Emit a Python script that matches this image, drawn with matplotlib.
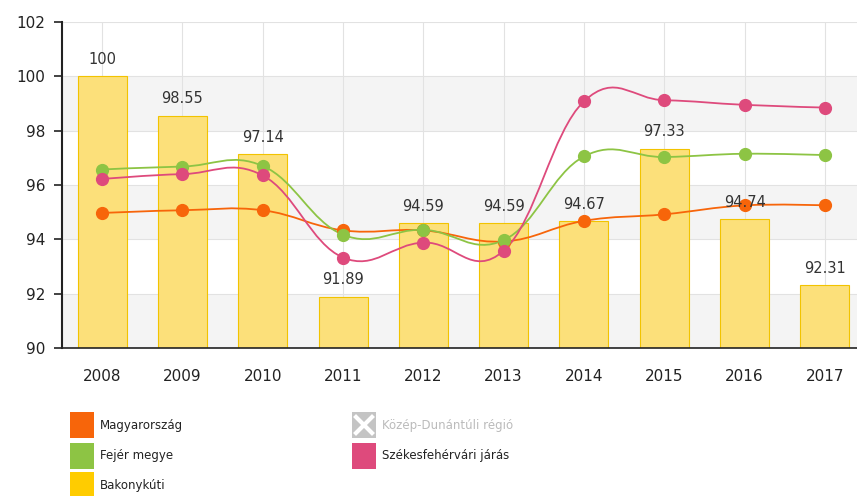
import matplotlib.pyplot as plt
from matplotlib.path import Path
from matplotlib.patches import PathPatch, Rectangle

years = ['2008', '2009', '2010', '2011', '2012', '2013', '2014', '2015', '2016', '2017']
bakonykuti = [100, 98.55, 97.14, 91.89, 94.59, 94.59, 94.67, 97.33, 94.74, 92.31]
magyarorszag = [94.97, 95.07, 95.07, 94.33, 94.33, 93.92, 94.68, 94.92, 95.25, 95.25]
fejer = [96.57, 96.68, 96.70, 94.17, 94.35, 93.97, 97.05, 97.03, 97.15, 97.10]
szekesfehervar = [96.22, 96.40, 96.35, 93.33, 93.88, 93.58, 99.08, 99.12, 98.95, 98.85]

c_orange = '#F7650A'
c_green = '#8DC444'
c_pink = '#DE4A7C'
c_bar = '#FCE07A'
c_bar_edge = '#F2C300'
c_legend_bar = '#FFCC00'


def spline_path(xs, ys, smoothing=1.5):
    # old highcharts spline (no clamping, so it can overshoot a bit)
    denom = smoothing + 1
    n = len(xs)
    left = [None] * n
    right = [None] * n
    for i in range(1, n - 1):
        lx, ly = xs[i - 1], ys[i - 1]
        px, py = xs[i], ys[i]
        nx, ny = xs[i + 1], ys[i + 1]
        lcx = (smoothing * px + lx) / denom
        lcy = (smoothing * py + ly) / denom
        rcx = (smoothing * px + nx) / denom
        rcy = (smoothing * py + ny) / denom
        corr = (rcy - lcy) * (rcx - px) / (rcx - lcx) + py - rcy
        left[i] = (lcx, lcy + corr)
        right[i] = (rcx, rcy + corr)
    verts = [(xs[0], ys[0])]
    codes = [Path.MOVETO]
    for i in range(1, n):
        c1 = right[i - 1] or (xs[i - 1], ys[i - 1])
        c2 = left[i] or (xs[i], ys[i])
        verts += [c1, c2, (xs[i], ys[i])]
        codes += [Path.CURVE4] * 3
    return Path(verts, codes)


fig = plt.figure(figsize=(8.57, 4.96), dpi=100)
ax = fig.add_axes([62 / 857, 148 / 496, 795 / 857, 326 / 496])

x = list(range(len(years)))

# alternating bands
for lo in [90, 94, 98]:
    ax.axhspan(lo, lo + 2, color='#F4F4F4', zorder=0, lw=0)
ax.set_ylim(90, 102)
ax.set_xlim(-0.5, 9.4)
ax.set_yticks(range(90, 103, 2))
ax.set_xticks(x)
ax.set_xticklabels(years)
ax.grid(True, color='#E2E2E2', linewidth=0.8, zorder=0.5)
ax.set_axisbelow(True)

ax.bar(x, [v - 90 for v in bakonykuti], bottom=90, width=0.61, color=c_bar,
       edgecolor=c_bar_edge, linewidth=0.8, zorder=2)
for xi, v in zip(x, bakonykuti):
    ax.text(xi, v + 0.35, f'{v:g}', ha='center', va='bottom', fontsize=10.5,
            color='#333333', zorder=6)

for vals, col in [(magyarorszag, c_orange), (fejer, c_green), (szekesfehervar, c_pink)]:
    ax.add_patch(PathPatch(spline_path(x, vals), fill=False, edgecolor=col,
                           linewidth=1.3, zorder=3))
    ax.plot(x, vals, 'o', color=col, markersize=8.5, zorder=4)

for s in ['top', 'right']:
    ax.spines[s].set_visible(False)
ax.spines['left'].set_color('#222222')
ax.spines['bottom'].set_color('#222222')
ax.spines['left'].set_linewidth(1.5)
ax.spines['bottom'].set_linewidth(1.2)
ax.tick_params(axis='y', length=6, width=1.2, color='#222222', labelsize=11,
               labelcolor='#222222', pad=6)
ax.tick_params(axis='x', length=0, labelsize=11, labelcolor='#222222', pad=15)

# legend
def legend_item(px, py, color, label, tcolor='#222222', hidden=False):
    W, H = 857, 496
    rect = Rectangle((px / W, 1 - (py + 13) / H), 24 / W, 26 / H,
                     transform=fig.transFigure, color=color, lw=0)
    fig.patches.append(rect)
    if hidden:
        cx, cy = (px + 12) / W, 1 - py / H
        fig.add_artist(plt.Line2D([cx - 8 / W, cx + 8 / W], [cy - 8 / H, cy + 8 / H],
                                  color='white', lw=3, transform=fig.transFigure))
        fig.add_artist(plt.Line2D([cx - 8 / W, cx + 8 / W], [cy + 8 / H, cy - 8 / H],
                                  color='white', lw=3, transform=fig.transFigure))
    fig.text((px + 30) / W, 1 - py / H, label, fontsize=8.5, color=tcolor,
             va='center', ha='left')


legend_item(70, 425, c_orange, 'Magyarország')
legend_item(70, 456, c_green, 'Fejér megye')
legend_item(70, 485, c_legend_bar, 'Bakonykúti')
legend_item(352, 425, '#C4C4C4', 'Közép-Dunántúli régió', tcolor='#BBBBBB', hidden=True)
legend_item(352, 456, c_pink, 'Székesfehérvári járás')

fig.savefig('out.png', dpi=100)
